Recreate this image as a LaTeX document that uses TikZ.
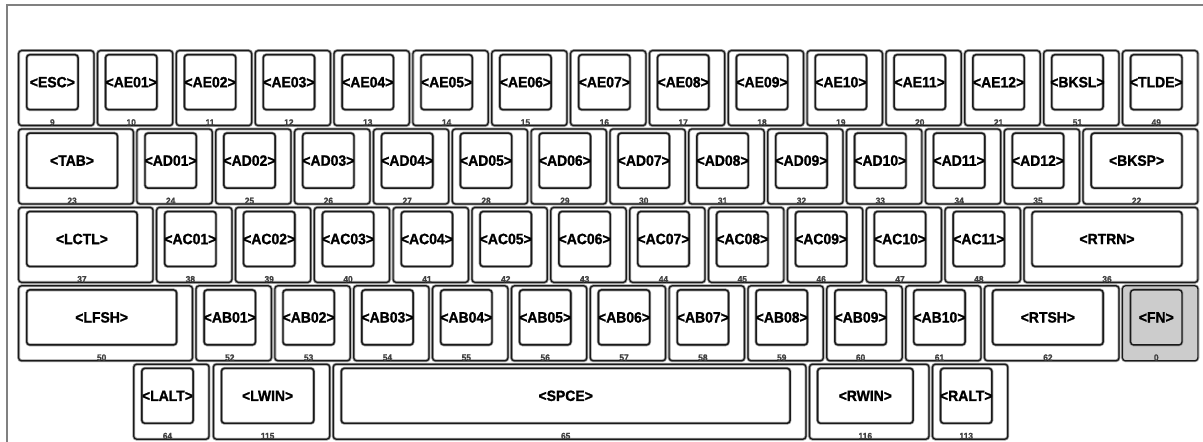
\documentclass[tikz,border=0pt]{standalone}
\usepackage{fontspec}
\usepackage{tikz}
\newfontfamily\keyfont[FakeBold=1.2, FakeStretch=0.93]{Liberation Sans}

% one key: [extra style]{column}{row}{width}{name}{code}
\newcommand{\kbkey}[6][]{%
  \pgfmathsetmacro\kx{18+(#2)*78.85}
  \pgfmathsetmacro\ky{50+(#3)*78.4}
  \pgfmathsetmacro\kw{(#4)*78.85-3.5}
  \pgfmathsetmacro\cw{\kw-24}
  \node[key, minimum width=\kw bp, #1] (#5) at (\kx,\ky) {};
  \node[keycap, minimum width=\cw bp, #1] (#5-cap) at ([xshift=8bp,yshift=-4bp]#5.north west) {};
  \node[lbl] (#5-lbl) at (#5-cap.center) {<#5>};
  \node[num] (#5-num) at ([yshift=-12bp]#5-cap.south) {#6};
}

\begin{document}
\begin{tikzpicture}[x=1bp,y=-1bp]
    \tikzstyle{key}=[draw=black!90, line width=1.2bp, rounded corners=3bp, minimum height=75bp,
                     inner sep=0pt, anchor=north west, preaction={draw=black!40, line width=2.8bp}]
    \tikzstyle{keycap}=[key, minimum height=55bp, line width=1.4bp]
    \tikzstyle{lbl}=[inner sep=0pt, font={\keyfont\fontsize{15bp}{16bp}\selectfont\bfseries}]
    \tikzstyle{num}=[inner sep=0pt, text=black!75, font={\keyfont\fontsize{9bp}{10bp}\selectfont\bfseries}]
    \tikzstyle{fnkey}=[fill=black!20]

\useasboundingbox (0,0) rectangle (1203,442);
\draw[black!50, line width=2.2bp] (7,442) -- (7,5) -- (1203,5);

% row E
\foreach \n/\c [count=\i from 0] in {ESC/9,AE01/10,AE02/11,AE03/12,AE04/13,AE05/14,AE06/15,AE07/16,
    AE08/17,AE09/18,AE10/19,AE11/20,AE12/21,BKSL/51,TLDE/49}{
  \kbkey{\i}{0}{1}{\n}{\c}
};
% row D
\kbkey{0}{1}{1.5}{TAB}{23}
\foreach \n/\c [count=\i from 0] in {AD01/24,AD02/25,AD03/26,AD04/27,AD05/28,AD06/29,AD07/30,
    AD08/31,AD09/32,AD10/33,AD11/34,AD12/35}{
  \kbkey{1.5+\i}{1}{1}{\n}{\c}
};
\kbkey{13.5}{1}{1.5}{BKSP}{22}
% row C
\kbkey{0}{2}{1.75}{LCTL}{37}
\foreach \n/\c [count=\i from 0] in {AC01/38,AC02/39,AC03/40,AC04/41,AC05/42,AC06/43,AC07/44,
    AC08/45,AC09/46,AC10/47,AC11/48}{
  \kbkey{1.75+\i}{2}{1}{\n}{\c}
};
\kbkey{12.75}{2}{2.25}{RTRN}{36}
% row B
\kbkey{0}{3}{2.25}{LFSH}{50}
\foreach \n/\c [count=\i from 0] in {AB01/52,AB02/53,AB03/54,AB04/55,AB05/56,AB06/57,AB07/58,
    AB08/59,AB09/60,AB10/61}{
  \kbkey{2.25+\i}{3}{1}{\n}{\c}
};
\kbkey{12.25}{3}{1.75}{RTSH}{62}
\kbkey[fnkey]{14}{3}{1}{FN}{0}
% row A
\kbkey{1.46}{4}{1}{LALT}{64}
\kbkey{2.47}{4}{1.52}{LWIN}{115}
\kbkey{3.99}{4}{6.04}{SPCE}{65}
\kbkey{10.03}{4}{1.56}{RWIN}{116}
\kbkey{11.59}{4}{1}{RALT}{113}
\end{tikzpicture}
\end{document}
